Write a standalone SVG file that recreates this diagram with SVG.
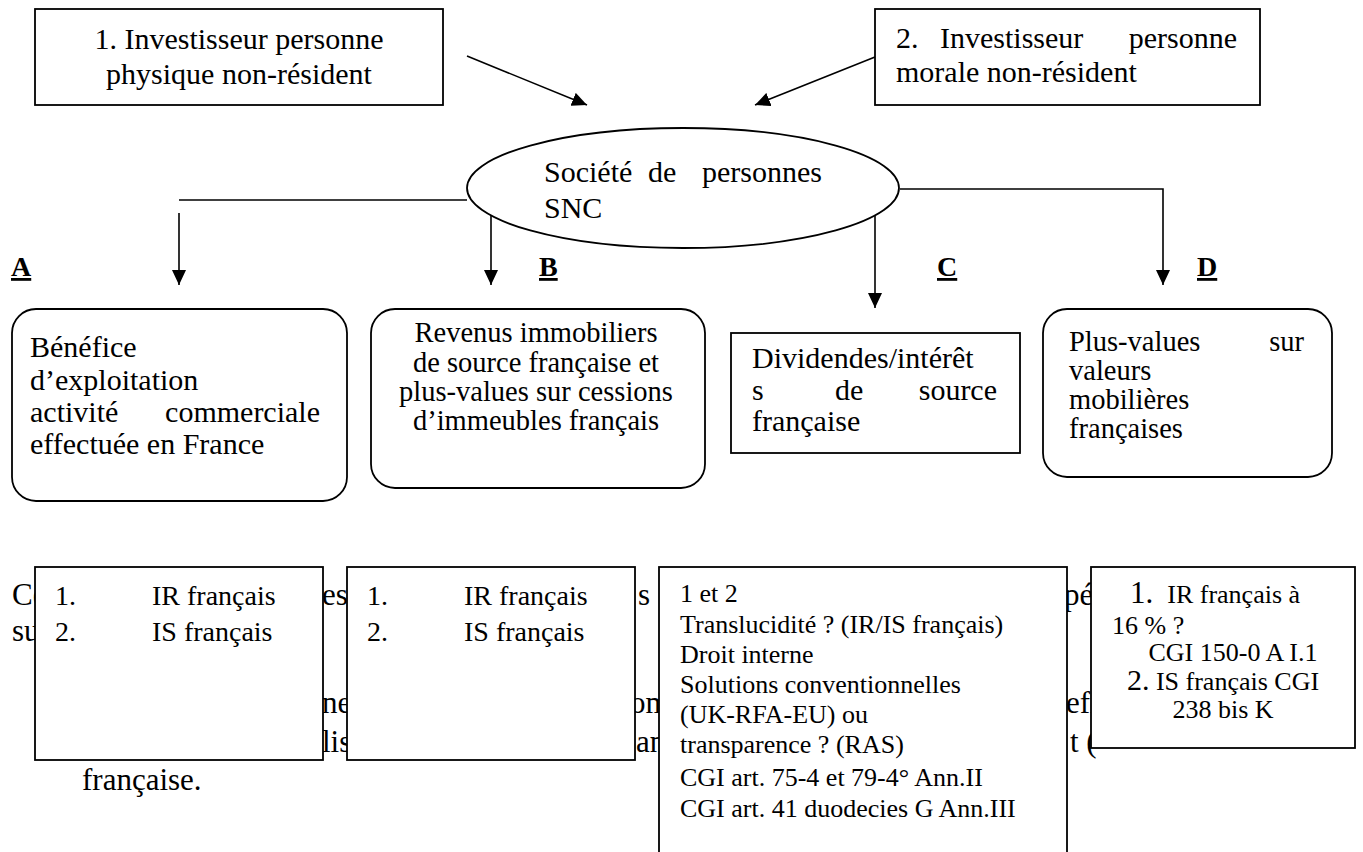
<svg xmlns="http://www.w3.org/2000/svg" width="1363" height="852" viewBox="0 0 1363 852">
<style>
  .box { fill: #fff; stroke: #000; stroke-width: 1.8; }
  .t { font-family: "Liberation Serif", "Times New Roman", serif; font-size: 30px; fill: #000; }
  .tb { font-family: "Liberation Serif", "Times New Roman", serif; font-size: 28.5px; fill: #000; }
  .s { font-family: "Liberation Serif", "Times New Roman", serif; font-size: 28px; fill: #000; }
  .c { font-family: "Liberation Serif", "Times New Roman", serif; font-size: 26px; fill: #000; }
  .bg { font-family: "Liberation Serif", "Times New Roman", serif; font-size: 31px; fill: #000; }
  .lbl { font-family: "Liberation Serif", "Times New Roman", serif; font-size: 28px; font-weight: bold; text-decoration: underline; fill: #000; }
  .mid { text-anchor: middle; }
  .end { text-anchor: end; }
  .conn { fill: none; stroke: #000; stroke-width: 1.6; }
</style>
<defs>
  <marker id="ah" viewBox="0 0 15 14" refX="15" refY="7" markerWidth="15" markerHeight="14" markerUnits="userSpaceOnUse" orient="auto">
    <path d="M0,0 L15,7 L0,14 Z" fill="#000"/>
  </marker>
</defs>
<rect width="1363" height="852" fill="#fff"/>

<!-- background paragraph fragments (partly hidden by the boxes) -->
<g id="background-text">
  <text class="bg" x="12" y="605">Ce</text>
  <text class="bg" x="12" y="641">su</text>
  <text class="bg" x="322" y="605">es</text>
  <text class="bg" x="322" y="713">ne</text>
  <text class="bg" x="322" y="752">lis</text>
  <text class="bg" x="638" y="605">s</text>
  <text class="bg" x="630" y="713">om</text>
  <text class="bg" x="636" y="752">an</text>
  <text class="bg" x="1064" y="605">pé</text>
  <text class="bg" x="1066" y="713">efi</text>
  <text class="bg" x="1070" y="752">t (</text>
  <text class="bg" x="82" y="790">française.</text>
</g>

<g id="connectors">
  <line class="conn" x1="467" y1="56" x2="587" y2="105" marker-end="url(#ah)"/>
  <line class="conn" x1="875" y1="57" x2="755" y2="105" marker-end="url(#ah)"/>
  <path class="conn" d="M467,200 H179"/>
  <line class="conn" x1="179" y1="213" x2="179" y2="285" marker-end="url(#ah)"/>
  <line class="conn" x1="491" y1="212" x2="491" y2="285" marker-end="url(#ah)"/>
  <line class="conn" x1="875" y1="189" x2="875" y2="308" marker-end="url(#ah)"/>
  <path class="conn" d="M900,189 H1163 V285" marker-end="url(#ah)"/>
</g>

<g id="investor1">
  <rect class="box" x="35" y="9" width="408" height="96"/>
  <text class="t mid" x="239" y="49">1. Investisseur personne</text>
  <text class="t mid" x="239" y="84">physique non-résident</text>
</g>

<g id="investor2">
  <rect class="box" x="875" y="9" width="385" height="96"/>
  <text class="t" x="896" y="48">2.</text>
  <text class="t" x="940" y="48">Investisseur</text>
  <text class="t end" x="1237" y="48">personne</text>
  <text class="t" x="896" y="82">morale non-résident</text>
</g>

<g id="snc">
  <ellipse class="box" cx="683" cy="188" rx="216" ry="60"/>
  <text class="t" x="544" y="182">Société</text>
  <text class="t" x="648" y="182">de</text>
  <text class="t end" x="822" y="182">personnes</text>
  <text class="t" x="544" y="218">SNC</text>
</g>

<g id="labels">
  <text class="lbl" x="11" y="276">A</text>
  <text class="lbl" x="539" y="276">B</text>
  <text class="lbl" x="937" y="276">C</text>
  <text class="lbl" x="1197" y="276">D</text>
</g>

<g id="nodeA">
  <rect class="box" x="12" y="309" width="335" height="192" rx="24" ry="24"/>
  <text class="t" x="30" y="357">Bénéfice</text>
  <text class="t" x="30" y="390">d’exploitation</text>
  <text class="t" x="30" y="422">activité</text>
  <text class="t end" x="320" y="422">commerciale</text>
  <text class="t" x="30" y="454">effectuée en France</text>
</g>

<g id="nodeB">
  <rect class="box" x="371" y="309" width="334" height="179" rx="24" ry="24"/>
  <text class="tb mid" x="536" y="342">Revenus immobiliers</text>
  <text class="tb mid" x="536" y="372">de source française et</text>
  <text class="tb mid" x="536" y="401">plus-values sur cessions</text>
  <text class="tb mid" x="536" y="430">d’immeubles français</text>
</g>

<g id="nodeC">
  <rect class="box" x="731" y="333" width="289" height="120"/>
  <text class="t" x="752" y="368">Dividendes/intérêt</text>
  <text class="t" x="752" y="400">s</text>
  <text class="t" x="835" y="400">de</text>
  <text class="t end" x="997" y="400">source</text>
  <text class="t" x="752" y="431">française</text>
</g>

<g id="nodeD">
  <rect class="box" x="1043" y="309" width="289" height="168" rx="24" ry="24"/>
  <text class="tb" x="1069" y="351">Plus-values</text>
  <text class="tb end" x="1304" y="351">sur</text>
  <text class="tb" x="1069" y="380">valeurs</text>
  <text class="tb" x="1069" y="409">mobilières</text>
  <text class="tb" x="1069" y="438">françaises</text>
</g>

<g id="taxA">
  <rect class="box" x="35" y="567" width="288" height="193"/>
  <text class="s" x="55" y="605">1.</text>
  <text class="s" x="152" y="605">IR français</text>
  <text class="s" x="55" y="641">2.</text>
  <text class="s" x="152" y="641">IS français</text>
</g>

<g id="taxB">
  <rect class="box" x="347" y="567" width="288" height="193"/>
  <text class="s" x="367" y="605">1.</text>
  <text class="s" x="464" y="605">IR français</text>
  <text class="s" x="367" y="641">2.</text>
  <text class="s" x="464" y="641">IS français</text>
</g>

<g id="taxC">
  <rect class="box" x="659" y="567" width="408" height="300"/>
  <text class="c" x="680" y="602">1 et 2</text>
  <text class="c" x="680" y="633">Translucidité ? (IR/IS français)</text>
  <text class="c" x="680" y="663">Droit interne</text>
  <text class="c" x="680" y="693">Solutions conventionnelles</text>
  <text class="c" x="680" y="723">(UK-RFA-EU) ou</text>
  <text class="c" x="680" y="753">transparence ? (RAS)</text>
  <text class="c" x="680" y="786">CGI art. 75-4 et 79-4° Ann.II</text>
  <text class="c" x="680" y="817">CGI art. 41 duodecies G Ann.III</text>
</g>

<g id="taxD">
  <rect class="box" x="1091" y="567" width="264" height="181"/>
  <text class="c" x="1130" y="603"><tspan font-size="31">1.</tspan><tspan dx="14">IR français à</tspan></text>
  <text class="c" x="1112" y="634">16 % ?</text>
  <text class="c mid" x="1233" y="661">CGI 150-0 A I.1</text>
  <text class="c mid" x="1223" y="690"><tspan font-size="30">2.</tspan> IS français CGI</text>
  <text class="c mid" x="1223" y="718">238 bis K</text>
</g>
</svg>
